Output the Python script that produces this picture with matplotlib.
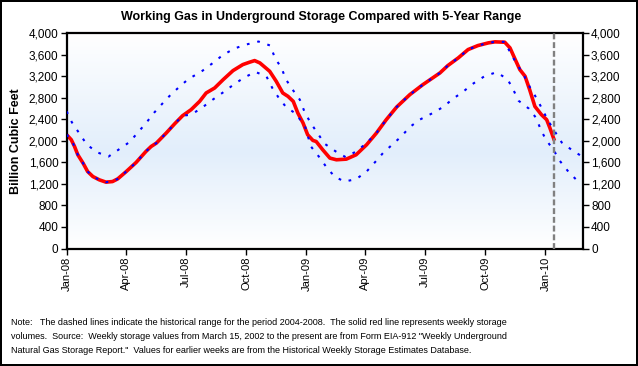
import numpy as np
import pandas as pd
import matplotlib
matplotlib.use('Agg')
import matplotlib.pyplot as plt
import matplotlib.dates as mdates
from matplotlib.colors import LinearSegmentedColormap
from matplotlib.ticker import FuncFormatter

plt.rcParams['font.family'] = ['Liberation Sans', 'DejaVu Sans']

# weekly storage (red line)
storage_dates = ['2008-01-01', '2008-01-08', '2008-01-13', '2008-01-18', '2008-01-26', '2008-02-02',
                 '2008-02-10', '2008-02-20', '2008-03-01', '2008-03-11', '2008-03-19', '2008-04-01',
                 '2008-04-16', '2008-05-01', '2008-05-09', '2008-05-17', '2008-06-01', '2008-06-14',
                 '2008-06-26', '2008-07-09', '2008-07-22', '2008-08-01', '2008-08-14', '2008-08-27',
                 '2008-09-11', '2008-09-26', '2008-10-06', '2008-10-14', '2008-10-22', '2008-11-06',
                 '2008-11-16', '2008-11-26', '2008-12-04', '2008-12-12', '2008-12-19', '2008-12-27',
                 '2009-01-03', '2009-01-11', '2009-01-16', '2009-01-26', '2009-02-06', '2009-02-16',
                 '2009-03-03', '2009-03-18', '2009-04-03', '2009-04-18', '2009-05-03', '2009-05-19',
                 '2009-06-08', '2009-06-28', '2009-07-24', '2009-08-05', '2009-08-21', '2009-09-05',
                 '2009-09-20', '2009-10-06', '2009-10-16', '2009-10-31', '2009-11-08', '2009-11-16',
                 '2009-11-23', '2009-12-01', '2009-12-08', '2009-12-16', '2009-12-26', '2010-01-03',
                 '2010-01-08', '2010-01-14']
storage = [2112, 2019, 1894, 1740, 1585, 1429, 1336, 1274, 1232, 1243, 1293, 1429,
           1597, 1801, 1894, 1957, 2143, 2316, 2465, 2577, 2731, 2887, 2980, 3135,
           3302, 3414, 3457, 3488, 3445, 3290, 3104, 2887, 2824, 2731, 2515, 2329,
           2112, 2006, 1987, 1833, 1678, 1647, 1659, 1740, 1926, 2143, 2391, 2627,
           2856, 3042, 3259, 3395, 3538, 3693, 3767, 3817, 3836, 3829, 3724, 3507,
           3321, 3197, 2949, 2638, 2484, 2391, 2236, 2032]

# 5-year range maximum
max_dates = ['2008-01-01', '2008-01-09', '2008-01-20', '2008-02-01', '2008-02-17', '2008-03-05',
             '2008-03-20', '2008-04-06', '2008-04-18', '2008-05-02', '2008-05-14', '2008-05-27',
             '2008-06-09', '2008-06-21', '2008-07-05', '2008-07-24', '2008-08-10', '2008-08-26',
             '2008-09-13', '2008-10-01', '2008-10-20', '2008-11-07', '2008-11-14', '2008-11-24',
             '2008-12-01', '2008-12-11', '2008-12-22', '2008-12-29', '2009-01-07', '2009-01-18',
             '2009-01-29', '2009-02-15', '2009-03-02', '2009-03-18', '2009-04-03', '2009-04-18',
             '2009-05-03', '2009-05-19', '2009-06-08', '2009-06-28', '2009-07-24', '2009-08-05',
             '2009-08-21', '2009-09-05', '2009-09-20', '2009-10-06', '2009-10-16', '2009-10-31',
             '2009-11-10', '2009-11-20', '2009-11-30', '2009-12-09', '2009-12-19', '2010-01-05',
             '2010-01-16', '2010-01-26', '2010-02-10', '2010-02-26']
max_range = [2545, 2341, 2143, 1926, 1783, 1708, 1833, 1976, 2143, 2341, 2527, 2701,
             2869, 2999, 3148, 3278, 3432, 3587, 3712, 3786, 3842, 3767, 3538, 3352,
             3135, 2949, 2763, 2545, 2341, 2143, 1944, 1801, 1697, 1801, 1957, 2143,
             2391, 2627, 2856, 3042, 3259, 3395, 3538, 3693, 3767, 3817, 3836, 3836,
             3600, 3395, 3197, 2980, 2781, 2378, 2162, 1968, 1833, 1708]

# 5-year range minimum
min_dates = ['2008-01-01', '2008-01-08', '2008-01-13', '2008-01-18', '2008-01-26', '2008-02-02',
             '2008-02-10', '2008-02-20', '2008-03-01', '2008-03-11', '2008-03-19', '2008-04-01',
             '2008-04-16', '2008-05-01', '2008-05-09', '2008-05-17', '2008-06-01', '2008-06-14',
             '2008-06-26', '2008-07-09', '2008-07-25', '2008-08-11', '2008-08-27', '2008-09-12',
             '2008-09-27', '2008-10-15', '2008-11-01', '2008-11-10', '2008-11-20', '2008-12-01',
             '2008-12-16', '2008-12-30', '2009-01-08', '2009-01-20', '2009-01-31', '2009-02-13',
             '2009-02-28', '2009-03-18', '2009-04-03', '2009-04-16', '2009-04-28', '2009-05-12',
             '2009-05-26', '2009-06-08', '2009-06-23', '2009-07-11', '2009-07-29', '2009-08-13',
             '2009-08-28', '2009-09-12', '2009-09-30', '2009-10-18', '2009-11-04', '2009-11-13',
             '2009-11-21', '2009-12-07', '2009-12-18', '2009-12-25', '2010-01-02', '2010-01-14',
             '2010-01-23', '2010-02-05', '2010-02-20']
min_range = [2112, 2019, 1894, 1740, 1585, 1429, 1336, 1274, 1232, 1243, 1293, 1429,
             1597, 1801, 1894, 1957, 2143, 2316, 2465, 2484, 2608, 2763, 2899, 3042,
             3166, 3278, 3197, 2980, 2794, 2627, 2502, 2266, 1894, 1708, 1522, 1336,
             1243, 1287, 1429, 1604, 1771, 1926, 2080, 2255, 2391, 2502, 2627, 2781,
             2906, 3055, 3197, 3271, 3148, 2949, 2744, 2595, 2422, 2205, 2019, 1820,
             1628, 1429, 1243]

latest_week = '2010-01-14'
tick_dates = ['2008-01-01', '2008-04-01', '2008-07-01', '2008-10-01', '2009-01-01',
              '2009-04-01', '2009-07-01', '2009-10-01', '2010-01-01']
y_ticks = list(range(0, 4001, 400))

title = 'Working Gas in Underground Storage Compared with 5-Year Range'
note = ('Note:   The dashed lines indicate the historical range for the period 2004-2008.  '
        'The solid red line represents weekly storage\n'
        'volumes.  Source:  Weekly storage values from March 15, 2002 to the present are from '
        'Form EIA-912 "Weekly Underground\n'
        'Natural Gas Storage Report."  Values for earlier weeks are from the Historical '
        'Weekly Storage Estimates Database.')

fig = plt.figure(figsize=(6.38, 3.66), dpi=100)
fig.patch.set_edgecolor('black')
fig.patch.set_linewidth(1.5)
ax = fig.add_axes([0.1045, 0.321, 0.8088, 0.5888])

x0 = mdates.date2num(pd.Timestamp('2008-01-01'))
x1 = mdates.date2num(pd.Timestamp('2010-02-27'))

# background gradient: white top, pale blue middle, white bottom
cmap = LinearSegmentedColormap.from_list('bg', [(0, '#ffffff'), (0.45, '#e2eefb'), (1, '#ffffff')])
grad = np.linspace(0, 1, 256).reshape(-1, 1)
ax.imshow(grad, aspect='auto', cmap=cmap, extent=[x0, x1, 4000, 0], zorder=0)

ax.plot(pd.to_datetime(max_dates), max_range, color='#0000ff', lw=1.5,
        linestyle=(0, (1.3, 3.8)), zorder=3)
ax.plot(pd.to_datetime(storage_dates), storage, color='#ff0000', lw=2.6, zorder=2,
        solid_joinstyle='round')
ax.plot(pd.to_datetime(min_dates), min_range, color='#0000ff', lw=1.5,
        linestyle=(0, (1.3, 3.8)), zorder=3)
ax.axvline(pd.Timestamp(latest_week), color='#808080', lw=1.7,
           linestyle=(0, (2.5, 1.2)), zorder=4)

ax.set_xlim(x0, x1)
ax.set_ylim(0, 4000)
ax.set_yticks(y_ticks)
ax.yaxis.set_major_formatter(FuncFormatter(lambda v, p: f'{int(v):,}'))
ax.set_xticks(pd.to_datetime(tick_dates))
ax.xaxis.set_major_formatter(mdates.DateFormatter('%b-%y'))
ax.tick_params(axis='x', rotation=90, labelsize=8, length=4, width=1, direction='out', pad=2)
ax.tick_params(axis='y', labelsize=8.5, length=4, width=1, direction='out', pad=2,
               left=True, right=True, labelleft=True, labelright=True)
for s in ax.spines.values():
    s.set_linewidth(1.6)
ax.set_ylabel('Billion Cubic Feet', fontsize=9, fontweight='bold', labelpad=5)

fig.text(0.503, 0.954, title, ha='center', va='center', fontsize=9, fontweight='bold')
fig.text(0.018, 0.080, note, ha='left', va='center', fontsize=6.45, linespacing=1.75)

fig.savefig('out.png', dpi=100, edgecolor=fig.get_edgecolor())
